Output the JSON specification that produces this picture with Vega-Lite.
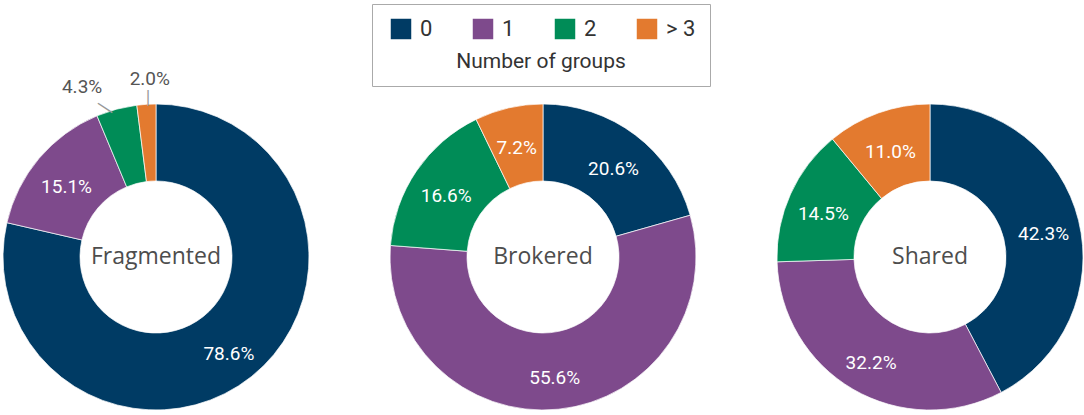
{
  "$schema": "https://vega.github.io/schema/vega-lite/v6.json",
  "padding": {"left": 1, "top": 3, "right": 0, "bottom": 0},
  "background": "white",
  "bounds": "flush",
  "data": {"values": [
    {"chart": "Fragmented", "group": "0", "value": 0.786},
    {"chart": "Fragmented", "group": "1", "value": 0.151},
    {"chart": "Fragmented", "group": "2", "value": 0.043},
    {"chart": "Fragmented", "group": "> 3", "value": 0.020},
    {"chart": "Brokered", "group": "0", "value": 0.206},
    {"chart": "Brokered", "group": "1", "value": 0.556},
    {"chart": "Brokered", "group": "2", "value": 0.166},
    {"chart": "Brokered", "group": "> 3", "value": 0.072},
    {"chart": "Shared", "group": "0", "value": 0.423},
    {"chart": "Shared", "group": "1", "value": 0.322},
    {"chart": "Shared", "group": "2", "value": 0.145},
    {"chart": "Shared", "group": "> 3", "value": 0.110}
  ]},
  "facet": {"column": {"field": "chart", "type": "nominal", "sort": ["Fragmented", "Brokered", "Shared"], "header": null}},
  "spacing": {"column": 77},
  "spec": {
    "width": 310,
    "height": 310,
    "layer": [
      {
        "mark": {"type": "arc", "outerRadius": 153, "innerRadius": 76, "stroke": "#ffffff", "strokeWidth": 0.7},
        "encoding": {
          "theta": {"field": "value", "type": "quantitative", "stack": "normalize", "scale": {"domain": [0, 1]}},
          "order": {"field": "group", "type": "ordinal", "sort": "ascending"},
          "color": {
            "field": "group", "type": "nominal",
            "scale": {"domain": ["0", "1", "2", "> 3"], "range": ["#003b64", "#7e4a8c", "#008c57", "#e37a2f"]},
            "legend": {
              "title": "Number of groups", "orient": "none", "legendX": 371, "legendY": -98,
              "direction": "horizontal", "columns": 4, "gridAlign": "all",
              "titleOrient": "bottom", "titleAnchor": "middle",
              "symbolType": "square", "symbolSize": 420, "symbolStrokeWidth": 0, "symbolOpacity": 1, "symbolOffset": 4,
              "labelFontSize": 22, "labelFont": "Roboto", "labelColor": "#333333", "labelOffset": 8,
              "columnPadding": 18,
              "titleFontSize": 21, "titleFont": "Roboto", "titleFontWeight": "normal", "titleColor": "#333333", "titlePadding": 11,
              "padding": 14, "strokeColor": "#aaaaaa", "fillColor": "#ffffff"
            }
          }
        }
      },
      {
        "mark": {"type": "text", "radius": 117, "dy": 5, "fontSize": 19, "font": "Roboto", "fill": "#ffffff"},
        "encoding": {
          "theta": {"field": "value", "type": "quantitative", "stack": "normalize", "scale": {"domain": [0, 1]}},
          "order": {"field": "group", "type": "ordinal", "sort": "ascending"},
          "detail": {"field": "group", "type": "nominal"},
          "text": {"condition": {"test": "datum.value >= 0.05", "field": "value", "type": "quantitative", "format": ".1%"}, "value": ""}
        }
      },
      {
        "transform": [
          {"stack": "value", "groupby": ["chart"], "sort": [{"field": "group", "order": "ascending"}], "as": ["v0", "v1"]},
          {"fold": ["v0", "v1"], "as": ["edge", "pos"]},
          {"aggregate": [{"op": "mean", "field": "pos", "as": "mid"}, {"op": "max", "field": "value", "as": "value"}], "groupby": ["chart", "group"]},
          {"filter": "datum.value < 0.05"}
        ],
        "layer": [
          {
            "transform": [{"filter": "datum.value >= 0.03"}],
            "mark": {"type": "text", "radius": 182, "dx": -27, "dy": 6, "fontSize": 19, "font": "Roboto", "fill": "#555555"},
            "encoding": {
              "theta": {"field": "mid", "type": "quantitative", "scale": {"domain": [0, 1]}},
              "text": {"field": "value", "type": "quantitative", "format": ".1%"}
            }
          },
          {
            "transform": [{"filter": "datum.value < 0.03"}],
            "mark": {"type": "text", "radius": 178, "dx": 5, "dy": 0, "fontSize": 19, "font": "Roboto", "fill": "#555555"},
            "encoding": {
              "theta": {"field": "mid", "type": "quantitative", "scale": {"domain": [0, 1]}},
              "text": {"field": "value", "type": "quantitative", "format": ".1%"}
            }
          },
          {
            "transform": [{"filter": "datum.value >= 0.03"}],
            "mark": {"type": "text", "radius": 161, "angle": 303, "dx": -10.5, "dy": -5, "fontSize": 17, "font": "DejaVu Sans", "fill": "#999999", "text": "|"},
            "encoding": {
              "theta": {"field": "mid", "type": "quantitative", "scale": {"domain": [0, 1]}}
            }
          },
          {
            "transform": [{"filter": "datum.value < 0.03"}],
            "mark": {"type": "text", "radius": 160, "dx": 2, "fontSize": 15, "font": "DejaVu Sans", "fill": "#999999", "text": "|"},
            "encoding": {
              "theta": {"field": "mid", "type": "quantitative", "scale": {"domain": [0, 1]}}
            }
          }
        ]
      },
      {
        "mark": {"type": "text", "font": "Open Sans", "fontSize": 23, "fill": "#4d4d4d"},
        "encoding": {
          "text": {"condition": {"test": "datum.group === '0'", "field": "chart", "type": "nominal"}, "value": ""}
        }
      }
    ]
  },
  "config": {"view": {"stroke": null}}
}
